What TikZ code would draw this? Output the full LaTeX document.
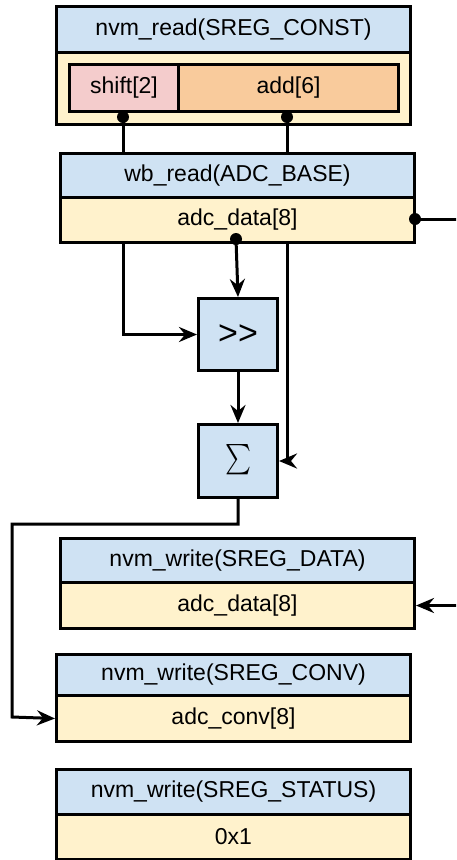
\documentclass[tikz,border=0pt]{standalone}
\usepackage{fontspec}
\setmainfont{Liberation Sans}
\usetikzlibrary{arrows.meta}
\definecolor{hdrblue}{HTML}{CFE2F3}
\definecolor{bodyyel}{HTML}{FFF2CC}
\definecolor{shiftpink}{HTML}{F4CCCC}
\definecolor{addorange}{HTML}{F9CB9C}

\begin{document}
\begin{tikzpicture}[x=1pt,y=-1pt,line width=3pt,
  every node/.style={font=\fontsize{23}{27}\selectfont},
  cell/.style={draw, anchor=north west, inner sep=0pt},
  hdr/.style={cell, fill=hdrblue},
  body/.style={cell, fill=bodyyel},
  opbox/.style={cell, fill=hdrblue},
  dot/.style={circle, fill=black, draw=none, inner sep=0pt, minimum size=12pt},
  arr/.style={-{Stealth[length=18pt,width=15pt,inset=6pt]}}]
\useasboundingbox (0,0) rectangle (456,860);
\clip (0,0) rectangle (456,860);

% constant register read
\node[body, minimum width=354, minimum height=72] (b1) at (55,51) {};
\node[hdr, minimum width=354, minimum height=46] (h1) at (55,5) {nvm\_read(SREG\_CONST)};
\node[cell, fill=shiftpink, minimum width=109, minimum height=47] (shift) at (68,63) {shift[2]};
\node[cell, fill=addorange, minimum width=220, minimum height=47] (add) at (177,63) {add[6]};

% ADC read
\node[body, minimum width=354, minimum height=45] (b2) at (59,196) {adc\_data[8]};
\node[hdr, minimum width=354, minimum height=44] (h2) at (59,152) {wb\_read(ADC\_BASE)};

% arithmetic blocks
\node[opbox, minimum width=79, minimum height=72, font=\fontsize{34}{36}\selectfont] (shr) at (197,297) {>{}>};
\node[opbox, minimum width=79, minimum height=73] (sum) at (197,423) {\resizebox{26pt}{34pt}{$\sum$}};

% register writes
\node[body, minimum width=354, minimum height=46] (b3) at (59,581) {adc\_data[8]};
\node[hdr, minimum width=354, minimum height=44] (h3) at (59,537) {nvm\_write(SREG\_DATA)};
\node[body, minimum width=354, minimum height=46] (b4) at (55,694) {adc\_conv[8]};
\node[hdr, minimum width=354, minimum height=41] (h4) at (55,653) {nvm\_write(SREG\_CONV)};
\node[body, minimum width=354, minimum height=45] (b5) at (55,813) {0x1};
\node[hdr, minimum width=354, minimum height=45] (h5) at (55,768) {nvm\_write(SREG\_STATUS)};

% connection points
\node[dot] (d1) at (123,117) {};
\node[dot] (d2) at (287,117) {};
\node[dot] (d3) at (415,219) {};
\node[dot] (d4) at (236,239) {};
\coordinate (far) at (475,219);

% connectors
\draw (d1.center) -- (d1.center |- h2.north);
\draw (d2.center) -- (d2.center |- h2.north);
\draw[arr] (d4.center) -- (shr.north);
\draw[arr] (b2.south -| d1.center) |- (shr.west);
\draw[arr] (b2.south -| d2.center) |- (sum.east);
\draw[arr] (shr.south) -- (sum.north);
\draw[arr] (sum.south) -- ++(0,25) -| (12,717) -- (b4.west);
\draw[arr] (d3.center) -- (far) |- (b3.east);
\end{tikzpicture}
\end{document}
